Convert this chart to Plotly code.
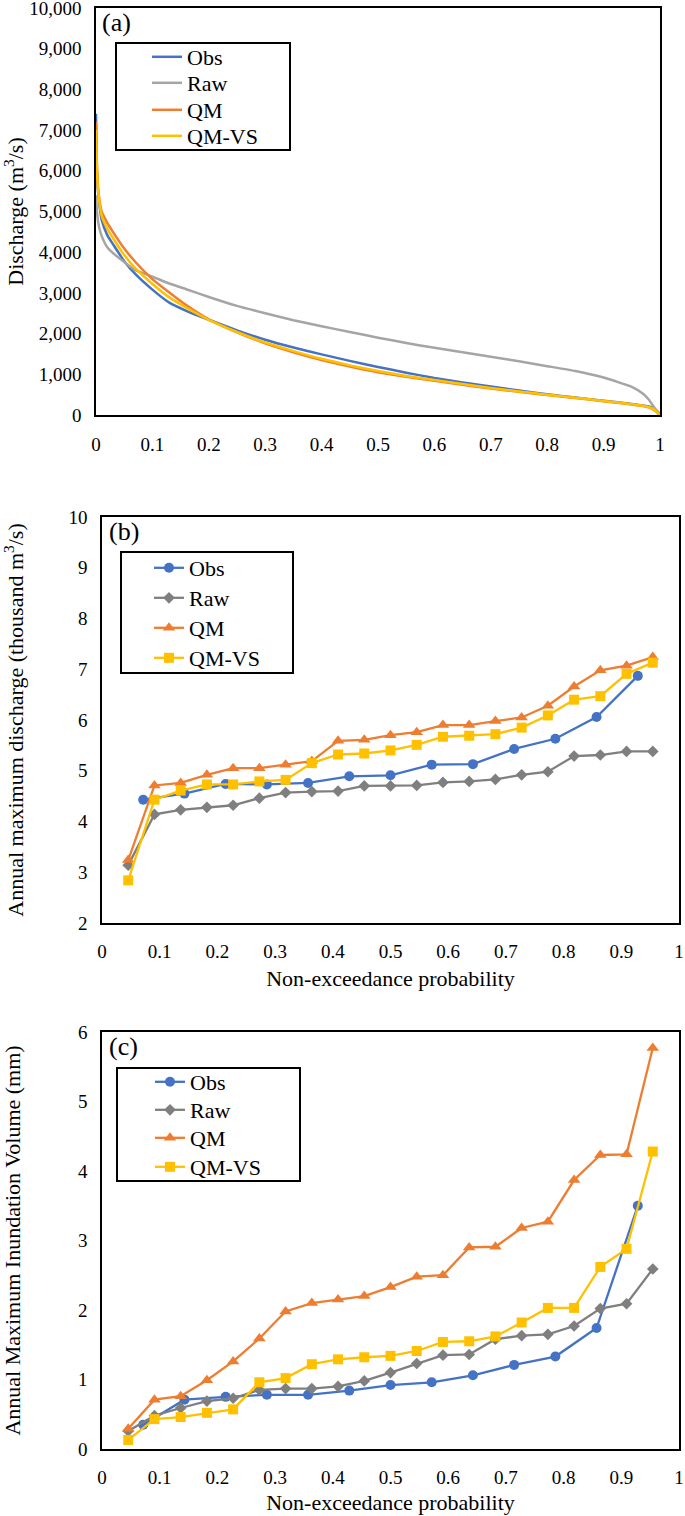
import plotly.graph_objects as go

# ---------------- Panel (a): flow duration curves ----------------
prob_a = [0, 0.002, 0.005, 0.01, 0.02, 0.03, 0.05, 0.07, 0.1, 0.13, 0.16, 0.2, 0.25, 0.3,
          0.35, 0.4, 0.45, 0.5, 0.55, 0.6, 0.65, 0.7, 0.75, 0.8, 0.85, 0.9, 0.95, 0.97,
          0.98, 0.99, 0.995, 1.0]
obs_a = [7400, 5800, 5300, 4800, 4420, 4200, 3780, 3460, 3080, 2760, 2560, 2340, 2080, 1850,
         1660, 1490, 1330, 1180, 1040, 910, 800, 700, 600, 510, 430, 350, 270, 230,
         210, 150, 80, 10]
raw_a = [5400, 4950, 4650, 4400, 4120, 3980, 3760, 3560, 3400, 3230, 3090, 2900, 2680, 2500,
         2330, 2180, 2040, 1900, 1770, 1650, 1540, 1430, 1320, 1200, 1080, 920, 690, 520,
         380, 180, 100, 30]
qm_a = [7200, 6000, 5400, 5000, 4720, 4500, 4090, 3760, 3340, 3010, 2700, 2350, 2030, 1760,
        1540, 1350, 1190, 1050, 940, 840, 740, 650, 570, 490, 420, 340, 260, 220,
        190, 120, 60, 0]
qmvs_a = [7000, 5900, 5350, 4900, 4580, 4350, 3930, 3600, 3220, 2890, 2640, 2340, 2040, 1780,
          1570, 1380, 1220, 1080, 960, 860, 760, 665, 580, 500, 425, 345, 265, 225,
          195, 130, 60, 0]

# ---------------- Panel (b): annual maximum discharge ----------------
prob_obs = [i / 14 for i in range(1, 14)]
prob_sim = [i / 22 for i in range(1, 22)]
obs_b = [4.43, 4.55, 4.74, 4.73, 4.76, 4.89, 4.91, 5.12, 5.13, 5.43, 5.63, 6.06, 6.87]
raw_b = [3.14, 4.14, 4.23, 4.28, 4.32, 4.46, 4.57, 4.59, 4.60, 4.70, 4.70, 4.71, 4.77, 4.79,
         4.83, 4.92, 4.98, 5.29, 5.31, 5.38, 5.38]
qm_b = [3.24, 4.71, 4.76, 4.92, 5.05, 5.05, 5.12, 5.19, 5.59, 5.61, 5.70, 5.76, 5.90, 5.90,
        5.98, 6.05, 6.28, 6.66, 6.98, 7.07, 7.24]
qmvs_b = [2.84, 4.43, 4.61, 4.73, 4.73, 4.79, 4.82, 5.15, 5.32, 5.34, 5.40, 5.51, 5.67, 5.69,
          5.72, 5.85, 6.09, 6.40, 6.47, 6.91, 7.13]

# ---------------- Panel (c): annual maximum inundation volume ----------------
obs_c = [0.35, 0.71, 0.75, 0.78, 0.78, 0.84, 0.92, 0.96, 1.06, 1.21, 1.33, 1.74, 3.50]
raw_c = [0.26, 0.48, 0.59, 0.69, 0.73, 0.85, 0.87, 0.87, 0.90, 0.98, 1.10, 1.23, 1.35, 1.36,
         1.58, 1.63, 1.65, 1.77, 2.02, 2.09, 2.59]
qm_c = [0.29, 0.71, 0.76, 0.99, 1.26, 1.59, 1.98, 2.10, 2.15, 2.20, 2.33, 2.48, 2.50, 2.90,
        2.91, 3.18, 3.27, 3.87, 4.23, 4.24, 5.77]
qmvs_c = [0.13, 0.43, 0.46, 0.52, 0.57, 0.96, 1.02, 1.22, 1.29, 1.32, 1.34, 1.41, 1.54, 1.55,
          1.62, 1.82, 2.03, 2.03, 2.62, 2.88, 4.28]

series_names = ["Obs", "Raw", "QM", "QM-VS"]
x_ticks = [0, 0.1, 0.2, 0.3, 0.4, 0.5, 0.6, 0.7, 0.8, 0.9, 1]

# ---------------- styling ----------------
W, H = 685, 1516
FONT = "Times New Roman, Liberation Serif, serif"
BLUE, GRAY_L, GRAY_D, ORANGE, YELLOW = "#4472C4", "#A5A5A5", "#7F7F7F", "#ED7D31", "#FFC000"


def px_x(v):
    return v / W


def px_y(v):
    return 1 - v / H


fig = go.Figure()

# legend layout per panel: (box x0, x1, y0, y1, legend x, row y positions)
legend_boxes = [
    (116, 290, 43, 150, 147, [57, 83, 110, 136]),
    (121, 293, 552, 673, 149, [568, 598, 628, 658]),
    (117, 300, 1068, 1181, 150, [1082, 1110, 1138, 1167]),
]

legend_ids = []
for p in range(3):
    legend_ids.append([("legend" if (p == 0 and k == 0) else "legend%d" % (p * 4 + k + 1)) for k in range(4)])

# panel a lines
for k, (name, vals, col) in enumerate(zip(series_names, [obs_a, raw_a, qm_a, qmvs_a],
                                          [BLUE, GRAY_L, ORANGE, YELLOW])):
    fig.add_trace(go.Scatter(x=prob_a, y=vals, mode="lines", name=name, showlegend=True,
                             line=dict(color=col, width=2.5, shape="spline", smoothing=0.5),
                             xaxis="x", yaxis="y", legend=legend_ids[0][k]))

marker_specs = [("circle", BLUE, 10), ("diamond", GRAY_D, 9), ("triangle-up", ORANGE, 11), ("square", YELLOW, 10)]

for p, (xa, ya), data in zip([1, 2], [("x2", "y2"), ("x3", "y3")],
                             [[obs_b, raw_b, qm_b, qmvs_b], [obs_c, raw_c, qm_c, qmvs_c]]):
    for k, (name, vals, (sym, col, sz)) in enumerate(zip(series_names, data, marker_specs)):
        xs = prob_obs if name == "Obs" else prob_sim
        fig.add_trace(go.Scatter(x=xs, y=vals, mode="lines+markers", name=name, showlegend=True,
                                 line=dict(color=col, width=2.3),
                                 marker=dict(symbol=sym, color=col, size=sz),
                                 xaxis=xa, yaxis=ya, legend=legend_ids[p][k]))

axis_common = dict(showgrid=False, zeroline=False, showline=True, mirror=True,
                   linecolor="black", linewidth=1.6, ticks="", automargin=False,
                   ticklabeloverflow="allow",
                   tickfont=dict(family=FONT, size=19, color="black"))
title_font = dict(family=FONT, size=22, color="black")

fig.update_layout(
    width=W, height=H,
    showlegend=True,
    margin=dict(l=0, r=0, t=0, b=0),
    paper_bgcolor="white", plot_bgcolor="white",
    font=dict(family=FONT, size=19, color="black"),
    xaxis=dict(domain=[px_x(96), px_x(660)], range=[0, 1], tickvals=x_ticks,
               anchor="y", ticklabelstandoff=11, **axis_common),
    yaxis=dict(domain=[px_y(415), px_y(8)], range=[0, 10000], dtick=1000, tickformat=",",
               anchor="x", ticklabelstandoff=9,
               title=dict(text="Discharge (m<sup>3</sup>/s)", font=title_font, standoff=0),
               **axis_common),
    xaxis2=dict(domain=[px_x(102), px_x(679)], range=[0, 1], tickvals=x_ticks, anchor="y2",
                ticklabelstandoff=10,
                title=dict(text="Non-exceedance probability", font=title_font, standoff=10),
                **axis_common),
    yaxis2=dict(domain=[px_y(923), px_y(517)], range=[2, 10], dtick=1, anchor="x2",
                ticklabelstandoff=9,
                title=dict(text="Annual maximum discharge (thousand m<sup>3</sup>/s)",
                           font=title_font, standoff=53),
                **axis_common),
    xaxis3=dict(domain=[px_x(102), px_x(679)], range=[0, 1], tickvals=x_ticks, anchor="y3",
                ticklabelstandoff=10,
                title=dict(text="Non-exceedance probability", font=title_font, standoff=8),
                **axis_common),
    yaxis3=dict(domain=[px_y(1449), px_y(1032)], range=[0, 6], dtick=1, anchor="x3",
                ticklabelstandoff=9,
                title=dict(text="Annual Maximum Inundation Volume (mm)",
                           font=title_font, standoff=55),
                **axis_common),
)

# legend frames and entries
legend_layout = {}
for p, (bx0, bx1, by0, by1, lx, rows) in enumerate(legend_boxes):
    fig.add_shape(type="rect", xref="paper", yref="paper",
                  x0=px_x(bx0), x1=px_x(bx1), y0=px_y(by1), y1=px_y(by0),
                  line=dict(color="black", width=2), fillcolor="white", layer="above")
    for k in range(4):
        legend_layout[legend_ids[p][k]] = dict(
            x=px_x(lx), y=px_y(rows[k]), xanchor="left", yanchor="middle",
            bgcolor="rgba(0,0,0,0)", borderwidth=0, visible=True,
            font=dict(family=FONT, size=22, color="black"))
fig.update_layout(**legend_layout)

for lbl, xp, yp in [("(a)", 100, 6), ("(b)", 107, 515), ("(c)", 107, 1030)]:
    fig.add_annotation(text=lbl, x=px_x(xp), y=px_y(yp), xref="paper", yref="paper",
                       xanchor="left", yanchor="top", showarrow=False,
                       font=dict(family=FONT, size=26, color="black"))

fig.write_html("out.html", config={"displayModeBar": False},
               post_script="document.body.style.margin='0';")
